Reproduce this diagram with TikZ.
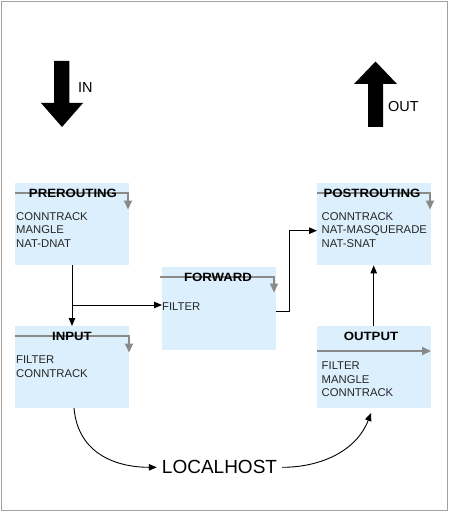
\documentclass[tikz,border=0pt]{standalone}
\usepackage{fontspec}
\setmainfont{Liberation Sans}
\usetikzlibrary{arrows.meta}
\definecolor{boxblue}{HTML}{DCEFFC}
\definecolor{guide}{HTML}{8A8A8A}
\definecolor{frame}{HTML}{A0A0A0}
\newcommand\chainttl[1]{\scalebox{1.1}[1]{\bfseries #1}}
\tikzset{
  chainbox/.style={draw=none, fill=boxblue, rectangle, anchor=north west, inner sep=0pt,
    minimum width=114pt, minimum height=82pt},
  chaintitle/.style={font=\fontsize{12}{14}\selectfont, inner sep=0pt, text=black},
  items/.style={font=\fontsize{11.3}{13.3}\selectfont, align=left, anchor=north west, inner sep=0pt, text=black!85},
  guideline/.style={draw=guide, line width=2pt, -{Triangle[length=9pt,width=8pt]}},
  flow/.style={draw=black, line width=0.9pt, -{Triangle[length=8pt,width=6.5pt]}},
  bigarrow/.style={fill=black, draw=none},
  biglabel/.style={font=\fontsize{14.5}{16}\selectfont, inner sep=0pt, anchor=west}
}
\begin{document}
\begin{tikzpicture}[x=1pt,y=-1pt]
\useasboundingbox (0,0) rectangle (450,513);
\draw[frame, line width=1.3pt] (1.5,1.5) rectangle (447.5,510.5);

% big IN / OUT arrows
\fill[bigarrow] (54,61) -- (69.3,61) -- (69.3,103) -- (83,103) -- (62,127) -- (41,103) -- (54,103) -- cycle;
\node[biglabel] (inlabel) at (78,88) {IN};
\fill[bigarrow] (368,127) -- (383,127) -- (383,84) -- (397,84) -- (375.5,61.5) -- (354,84) -- (368,84) -- cycle;
\node[biglabel] (outlabel) at (388,107) {OUT};

% boxes
\node[chainbox] (pre) at (15,183) {};
\node[chainbox] (inp) at (15,326) {};
\node[chainbox, minimum height=83pt] (fwd) at (162,267) {};
\node[chainbox] (post) at (317,183) {};
\node[chainbox] (outp) at (317,326) {};

% guide lines (drawn under titles)
\draw[guideline] (15,193.3) -- (128,193.3) -- (128,209.5);
\draw[guideline] (15,335.7) -- (129,335.7) -- (129,352.5);
\draw[guideline] (160,277) -- (274,277) -- (274,292.5);
\draw[guideline] (317,193.3) -- (430,193.3) -- (430,209.5);
\draw[guideline] (317,351) -- (431,351);

% titles
\node[chaintitle] (pret) at (73,193.3) {\chainttl{PREROUTING}};
\node[chaintitle] (inpt) at (72,336) {\chainttl{INPUT}};
\node[chaintitle] (fwdt) at (218,277) {\chainttl{FORWARD}};
\node[chaintitle] (postt) at (372,193.3) {\chainttl{POSTROUTING}};
\node[chaintitle] (outpt) at (371,336.7) {\chainttl{OUTPUT}};

% items
\node[items] (prei) at (16,212.6) {CONNTRACK\\MANGLE\\NAT-DNAT};
\node[items] (inpi) at (16,356) {FILTER\\CONNTRACK};
\node[items, anchor=west] (fwdi) at (162,306.5) {FILTER};
\node[items] (posti) at (321.5,212.6) {CONNTRACK\\NAT-MASQUERADE\\NAT-SNAT};
\node[items] (outpi) at (321.5,362) {FILTER\\MANGLE\\CONNTRACK};

% localhost
\node[font=\fontsize{19}{22}\selectfont, inner sep=0pt] (lh) at (219.5,467.3) {LOCALHOST};

% connectors
\coordinate (branch) at (72,305);
\draw[flow] (pre.south -| branch) -- (inp.north -| branch);
\draw[flow] (branch) -- (fwd.west |- branch);
\coordinate (fo) at (276,311.7);
\draw[flow] (fo) -- (289.3,311.7) -- (289.3,230.7) -- (post.west |- 0,230.7);
\coordinate (oup) at (373.7,326);
\draw[flow] (oup) -- (post.south -| oup);
\draw[flow] (74,408) .. controls (78,455) and (118,467.3) .. ([xshift=-5pt]lh.west);
\draw[flow] ([xshift=5pt]lh.east) .. controls (322,467.3) and (357,450) .. (371,413);
\end{tikzpicture}
\end{document}
